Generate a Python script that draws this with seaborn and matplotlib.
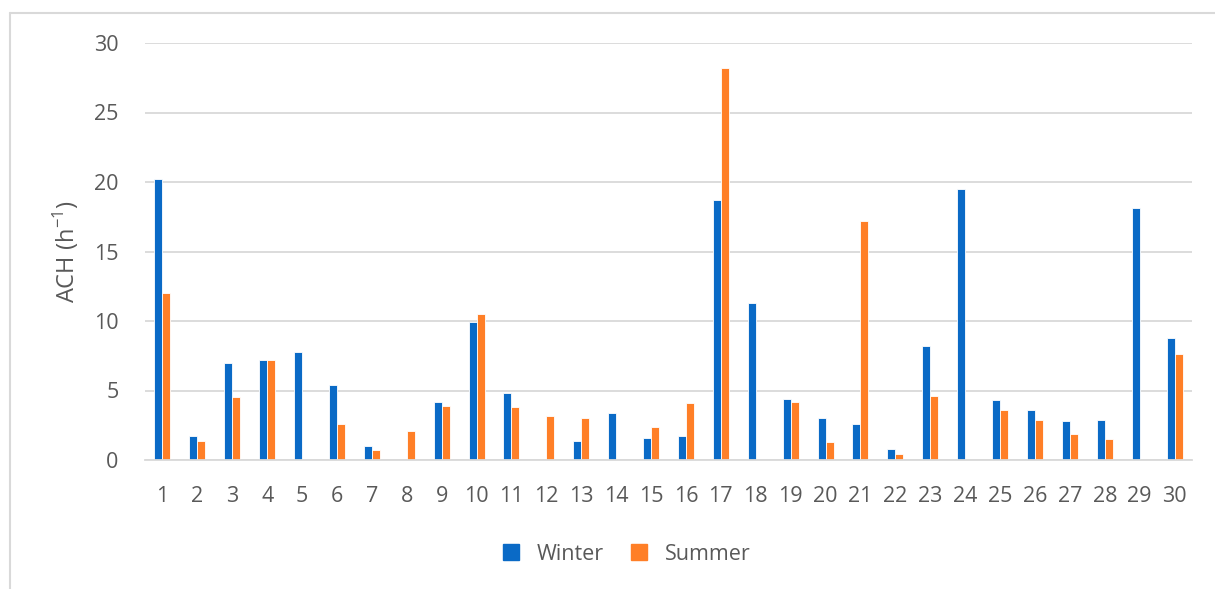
import matplotlib
matplotlib.use('Agg')
import matplotlib.pyplot as plt
import matplotlib.lines as mlines
import seaborn as sns
import pandas as pd

# ---------------------------------------------------------------------------
# Data: air changes per hour for 30 dwellings, winter vs summer
# ---------------------------------------------------------------------------
dwellings = [str(i) for i in range(1, 31)]
winter = [20.2, 1.7, 7.0, 7.2, 7.8, 5.4, 1.0, 0.0, 4.2, 9.9,
          4.8, 0.0, 1.4, 3.4, 1.6, 1.7, 18.7, 11.3, 4.4, 3.0,
          2.6, 0.8, 8.2, 19.5, 4.3, 3.6, 2.8, 2.9, 18.1, 8.8]
summer = [12.0, 1.4, 4.5, 7.2, 0.0, 2.6, 0.7, 2.1, 3.9, 10.5,
          3.8, 3.2, 3.0, 0.0, 2.4, 4.1, 28.2, 0.0, 4.2, 1.3,
          17.2, 0.4, 4.6, 0.0, 3.6, 2.9, 1.9, 1.5, 0.0, 7.6]
seasons = ['Winter', 'Summer']
colors = {'Winter': '#0A6AC6', 'Summer': '#FF7F27'}
y_ticks = [0, 5, 10, 15, 20, 25, 30]

df = pd.DataFrame({
    'Dwelling': dwellings * 2,
    'ACH': winter + summer,
    'Season': ['Winter'] * len(winter) + ['Summer'] * len(summer),
})

TEXT = '#595959'
GRID = '#D9D9D9'

sns.set_style('white')
plt.rcParams['font.family'] = ['Open Sans', 'DejaVu Sans']
plt.rcParams['mathtext.fontset'] = 'custom'
plt.rcParams['mathtext.rm'] = 'Open Sans'

fig = plt.figure(figsize=(12.15, 5.89), dpi=100)
ax = fig.add_axes([145 / 1215, 1 - 460 / 589, (1192 - 145) / 1215, (460 - 43) / 589])

sns.barplot(data=df, x='Dwelling', y='ACH', hue='Season', hue_order=seasons,
            palette=colors, width=0.46, edgecolor='white', linewidth=0.6,
            saturation=1, ax=ax, legend=False)

ax.set_xlim(-0.5, len(dwellings) - 0.5)
ax.set_ylim(0, 30)
ax.set_yticks(y_ticks)
ax.yaxis.grid(True, color=GRID, lw=1.3)
ax.set_axisbelow(True)
for side in ['top', 'right', 'left']:
    ax.spines[side].set_visible(False)
ax.spines['bottom'].set_color(GRID)
ax.spines['bottom'].set_linewidth(1.3)
ax.tick_params(axis='both', length=0, labelsize=15.5, colors=TEXT)
ax.tick_params(axis='x', pad=19)
ax.tick_params(axis='y', pad=19)
ax.set_xlabel('')
ax.set_ylabel('ACH (h$^{\\mathrm{-1}}$)', fontsize=17, color=TEXT, labelpad=9)

# legend under the plot
handles = [mlines.Line2D([], [], marker='s', linestyle='none', markersize=11,
                         color=colors[s], label=s) for s in seasons]
fig.legend(handles=handles, loc='center', bbox_to_anchor=(620 / 1215, 1 - 554 / 589),
           ncol=2, frameon=False, fontsize=15.5, labelcolor=TEXT,
           handletextpad=0.2, columnspacing=0.6)

# light frame on top and left, as in the source image
fig.add_artist(mlines.Line2D([10 / 1215, 10 / 1215], [0, 1 - 13 / 589],
                             transform=fig.transFigure, color=GRID, lw=1.5))
fig.add_artist(mlines.Line2D([10 / 1215, 1], [1 - 13 / 589, 1 - 13 / 589],
                             transform=fig.transFigure, color=GRID, lw=1.5))

fig.savefig('out.png', dpi=100)
